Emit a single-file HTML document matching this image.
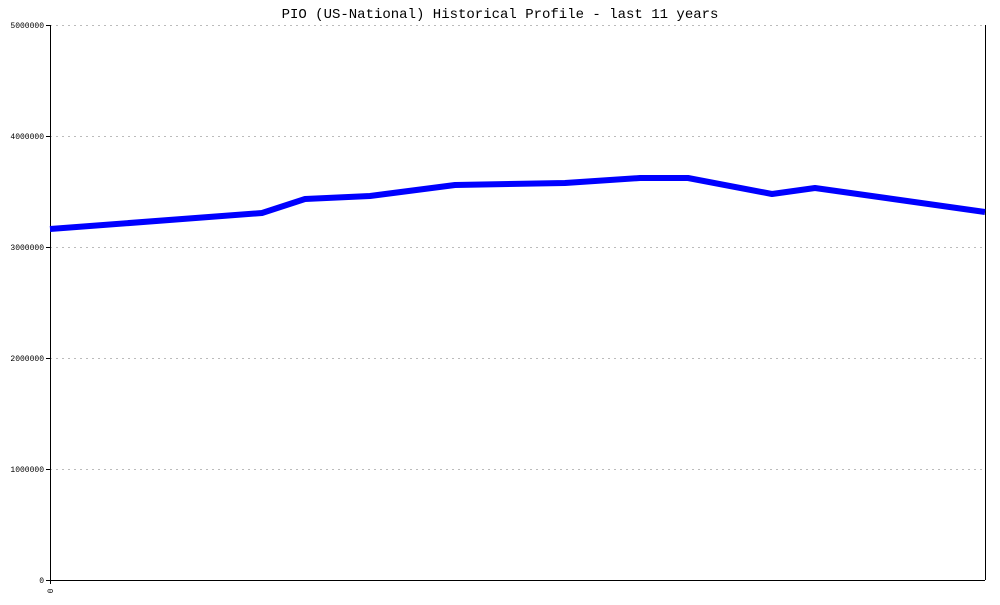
<!DOCTYPE html><html><head><style>body{margin:0;background:#fff}</style></head><body>
<svg width="1000" height="600" xmlns="http://www.w3.org/2000/svg" font-family="Liberation Mono, monospace">
<rect width="1000" height="600" fill="#fff"/>
<text x="500" y="18" font-size="14" text-anchor="middle" fill="#000">PIO (US-National) Historical Profile - last 11 years</text>
<g stroke="#bbb" stroke-dasharray="2,4" stroke-width="1">
<line x1="50" y1="25.5" x2="985" y2="25.5"/><line x1="50" y1="136.5" x2="985" y2="136.5"/><line x1="50" y1="247.5" x2="985" y2="247.5"/><line x1="50" y1="358.5" x2="985" y2="358.5"/><line x1="50" y1="469.5" x2="985" y2="469.5"/>
</g>
<g stroke="#000" stroke-width="1">
<line x1="50.5" y1="25" x2="50.5" y2="584"/><line x1="985.5" y1="25" x2="985.5" y2="580"/><line x1="46" y1="580.5" x2="985" y2="580.5"/>
<line x1="46" y1="25.5" x2="50" y2="25.5"/><line x1="46" y1="136.5" x2="50" y2="136.5"/><line x1="46" y1="247.5" x2="50" y2="247.5"/><line x1="46" y1="358.5" x2="50" y2="358.5"/><line x1="46" y1="469.5" x2="50" y2="469.5"/>
</g>
<g font-size="8" text-anchor="end" fill="#000">
<text x="44" y="28">5000000</text><text x="44" y="139">4000000</text><text x="44" y="250">3000000</text><text x="44" y="361">2000000</text><text x="44" y="472">1000000</text><text x="44" y="583">0</text>
</g>
<text x="0" y="0" font-size="8" transform="translate(53,591) rotate(-90)" text-anchor="middle">0</text>
<polyline fill="none" stroke="#0000ff" stroke-width="6" stroke-linejoin="round" points="50,229 262,213 305,199 370,196 455,185 565,183 640,178 688,178 772,194 815,188 985,212"/>
</svg>
</body></html>
